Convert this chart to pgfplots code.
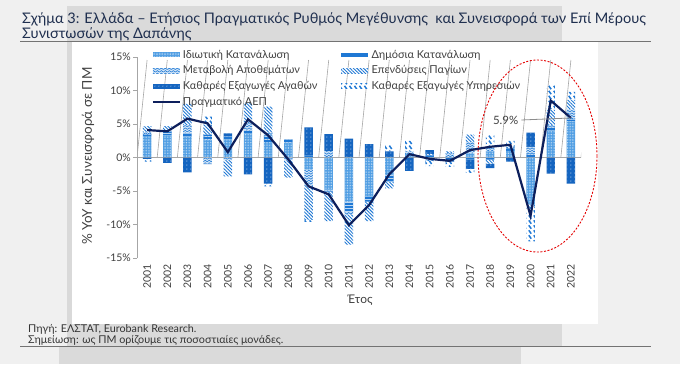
\documentclass[border=0pt]{standalone}
\usepackage{pgfplots}
\pgfplotsset{compat=1.18}
\usepackage{pgfplotstable}
\usepackage{fontspec}
\setmainfont{Lato}
\usetikzlibrary{patterns,patterns.meta}

\definecolor{bgA}{HTML}{F0F0F0}
\definecolor{bgB}{HTML}{DADADA}
\definecolor{blueA}{HTML}{1F78D4}
\definecolor{blueL}{HTML}{4F9DE3}
\definecolor{blueD}{HTML}{1565C0}
\definecolor{navy}{HTML}{0D1F5C}
\definecolor{txt}{HTML}{404040}
\definecolor{ttl}{HTML}{1F2F4F}
\definecolor{axgray}{HTML}{A6A6A6}

\tikzdeclarepattern{
  name=Waves,
  type=uncolored,
  bottom left={(-.1pt,-.1pt)},
  top right={(4.1pt,2.6pt)},
  tile size={(4pt,2.5pt)},
  code={\draw[line width=0.6pt] (0pt,0.5pt) -- (2pt,2pt) -- (4pt,0.5pt);}
}
\tikzdeclarepattern{
  name=SDash,
  type=uncolored,
  bottom left={(-.1pt,-.1pt)},
  top right={(5.1pt,5.1pt)},
  tile size={(5pt,5pt)},
  code={\draw[line width=1.5pt] (0.8pt,4.2pt) -- (3.2pt,0.8pt);}
}

\pgfplotsset{
  privS/.style={fill=blueL, draw=none, postaction={pattern={Dots[distance=1.6pt,radius=0.35pt]}, pattern color=white}},
  pubS/.style={fill=blueA, draw=none, postaction={pattern={Lines[angle=0,distance=3pt,line width=0.8pt]}, pattern color=white!70!blueA}},
  invS/.style={fill=blueL!25, draw=none, postaction={pattern=Waves, pattern color=blueA}},
  fixS/.style={fill=white, draw=none, postaction={pattern={Lines[angle=-45,distance=2.4pt,line width=0.9pt]}, pattern color=blueA}},
  nxgS/.style={fill=blueD, draw=none, postaction={pattern={Dots[distance=4pt,radius=0.5pt]}, pattern color=white}},
  nxsS/.style={fill=white, draw=none, postaction={pattern=SDash, pattern color=blueA}},
  gdpleg/.style={legend image code/.code={\draw[##1] (0bp,0bp) -- (27bp,0bp);}},
  publeg/.style={legend image code/.code={\draw[blueA, line width=3.2bp] (0bp,0bp) -- (27bp,0bp);}},
  base/.style={
    at={(137bp,-258bp)}, anchor=south west,
    scale only axis, width=444bp, height=201bp,
    xmin=-0.5, xmax=21.5, ymin=-15, ymax=15,
  },
}

\pgfplotstableread{
idx priv pub inv fix nxg nxs gdp
0 3.2 0.2 0.3 1.0 -0.2 -0.4 4.1
1 3.3 0.5 0.1 0.8 -0.8 0.0 3.9
2 3.1 0.5 1.2 3.2 -2.2 0.0 5.8
3 2.6 0.8 -0.9 1.5 -0.1 1.2 5.1
4 2.7 0.4 -0.4 -2.4 0.5 0.0 0.8
5 3.6 0.5 1.0 3.1 -2.5 0.0 5.7
6 2.3 1.0 0.4 3.9 -3.9 -0.4 3.3
7 2.2 0.5 -0.3 -2.7 0.0 0.0 -0.3
8 -1.8 0.3 -2.4 -5.1 4.2 -0.3 -4.3
9 -4.8 -0.3 0.9 -4.4 2.6 0.0 -5.5
10 -6.6 -1.5 -0.4 -4.5 2.8 0.0 -10.1
11 -5.8 -0.8 0.0 -2.9 2.0 0.0 -7.1
12 -2.6 -1.0 0.0 -1.0 0.9 1.0 -2.5
13 0.5 0.0 0.4 0.0 -2.0 1.6 0.5
14 -0.1 0.3 -0.4 0.2 0.6 -0.8 -0.2
15 0.0 -0.1 0.6 0.3 -0.5 -0.8 -0.5
16 0.6 -0.3 1.7 1.1 -1.4 -0.6 1.1
17 0.9 -0.3 0.5 -0.6 -0.7 1.9 1.6
18 1.0 0.3 0.1 0.2 -0.6 0.9 1.9
19 -7.0 0.6 1.0 -0.3 2.1 -5.2 -8.7
20 4.0 0.6 0.2 2.3 -2.4 3.7 8.5
21 5.4 0.3 1.5 1.4 -3.9 1.2 5.9
}\datatab

\begin{document}
\begin{tikzpicture}[x=1bp,y=1bp]
\useasboundingbox (0,0) rectangle (680,-364);
% background (page frame)
\fill[bgA] (0,0) rectangle (680,-364);
\fill[bgB] (67,-6) rectangle (562,-41);
\fill[white] (72,-42) rectangle (598,-324);
\fill[black!15] (67,-42) rectangle (72,-324);
\fill[bgB] (67,-324) rectangle (562,-346);
\fill[bgB] (59,-347) rectangle (521,-364);
\draw[black!55, line width=0.8bp] (20,-41.5) -- (651,-41.5);
\draw[black!55, line width=0.8bp] (20,-346) -- (651,-346);

% title
\node[anchor=base west, inner sep=0, text=ttl, font=\fontsize{14.6}{16}\selectfont] at (22,-23) {Σχήμα 3: Ελλάδα – Ετήσιος Πραγματικός Ρυθμός Μεγέθυνσης \ και Συνεισφορά των Επί Μέρους};
\node[anchor=base west, inner sep=0, text=ttl, font=\fontsize{14.6}{16}\selectfont] at (22,-38) {Συνιστωσών της Δαπάνης};

% positive parts
\begin{axis}[base, ybar stacked, bar width=0.42, axis lines=none, ticks=none]
\addplot[privS] table[x=idx, y expr={max(\thisrow{priv},0)}] {\datatab};
\addplot[pubS] table[x=idx, y expr={max(\thisrow{pub},0)}] {\datatab};
\addplot[invS] table[x=idx, y expr={max(\thisrow{inv},0)}] {\datatab};
\addplot[fixS] table[x=idx, y expr={max(\thisrow{fix},0)}] {\datatab};
\addplot[nxgS] table[x=idx, y expr={max(\thisrow{nxg},0)}] {\datatab};
\addplot[nxsS] table[x=idx, y expr={max(\thisrow{nxs},0)}] {\datatab};
\end{axis}

% negative parts + axes
\begin{axis}[base, ybar stacked, bar width=0.42,
  axis lines*=left,
  x axis line style={draw=none},
  y axis line style={axgray, line width=0.8bp},
  xtick={0,...,21},
  xticklabels={2001,2002,2003,2004,2005,2006,2007,2008,2009,2010,2011,2012,2013,2014,2015,2016,2017,2018,2019,2020,2021,2022},
  xtick style={draw=none},
  xticklabel style={rotate=90, anchor=east, text=txt, font=\fontsize{10.5}{12}\selectfont, inner sep=2bp},
  ytick={-15,-10,-5,0,5,10,15},
  yticklabels={-15\%,-10\%,-5\%,0\%,5\%,10\%,15\%},
  ytick style={axgray, line width=0.8bp},
  tick align=outside, major tick length=4bp,
  yticklabel style={text=txt, font=\fontsize{10.5}{12}\selectfont, inner sep=2bp},
]
\addplot[privS] table[x=idx, y expr={min(\thisrow{priv},0)}] {\datatab};
\addplot[pubS] table[x=idx, y expr={min(\thisrow{pub},0)}] {\datatab};
\addplot[invS] table[x=idx, y expr={min(\thisrow{inv},0)}] {\datatab};
\addplot[fixS] table[x=idx, y expr={min(\thisrow{fix},0)}] {\datatab};
\addplot[nxgS] table[x=idx, y expr={min(\thisrow{nxg},0)}] {\datatab};
\addplot[nxsS] table[x=idx, y expr={min(\thisrow{nxs},0)}] {\datatab};
\draw[axgray, line width=0.8bp] (axis cs:-0.5,0) -- (axis cs:21.5,0);
\pgfplotsinvokeforeach{-0.5,0.5,...,21.5}{\draw[axgray, line width=0.6bp] (axis cs:#1,0) -- ++(0,-3bp);}
\end{axis}

% GDP line + legend + annotation
\begin{axis}[base, axis lines=none, ticks=none,
  legend columns=2,
  legend cell align=left,
  legend style={at={(axis description cs:0.026,1.055)}, anchor=north west, draw=none, fill=none,
    font=\fontsize{11}{12}\selectfont, text=txt, row sep=2.0bp,
    /tikz/column 2/.style={column sep=20bp}},
  legend image code/.code={\path[#1] (0bp,-2.5bp) rectangle (27bp,2.5bp);},
]
\addlegendimage{privS}
\addlegendentry{Ιδιωτική Κατανάλωση}
\addlegendimage{publeg}
\addlegendentry{Δημόσια Κατανάλωση}
\addlegendimage{invS}
\addlegendentry{Μεταβολή Αποθεμάτων}
\addlegendimage{fixS}
\addlegendentry{Επενδύσεις Παγίων}
\addlegendimage{nxgS}
\addlegendentry{Καθαρές Εξαγωγές Αγαθών}
\addlegendimage{nxsS}
\addlegendentry{Καθαρές Εξαγωγές Υπηρεσιών}
\addplot[navy, line width=2.2bp, mark=none, gdpleg] table[x=idx, y=gdp] {\datatab};
\addlegendentry{Πραγματικό ΑΕΠ}
\draw[black!45, line width=0.8bp] (axis cs:18.55,5.6) -- (axis cs:21,5.9);
\node[anchor=east, text=txt, inner sep=1bp, font=\fontsize{11.5}{12}\selectfont] at (axis cs:18.45,5.6) {5.9\%};
\end{axis}

% highlight ellipse
\draw[red!90!black, dash pattern=on 2bp off 1.6bp, line width=0.9bp] (537.5,-156) ellipse [x radius=59.5, y radius=96];

% axis titles
\node[rotate=90, text=txt, font=\fontsize{13.5}{15}\selectfont] at (88,-156) {\% YoY και Συνεισφορά σε ΠΜ};
\node[text=txt, font=\fontsize{12}{14}\selectfont] at (360,-300) {Έτος};

% footer
\node[anchor=base west, inner sep=0, text=black!80, font=\fontsize{10.8}{12}\selectfont] at (28,-332) {Πηγή: ΕΛΣΤΑΤ, Eurobank Research.};
\node[anchor=base west, inner sep=0, text=black!80, font=\fontsize{10.8}{12}\selectfont] at (28,-343.5) {Σημείωση: ως ΠΜ ορίζουμε τις ποσοστιαίες μονάδες.};
\end{tikzpicture}
\end{document}
